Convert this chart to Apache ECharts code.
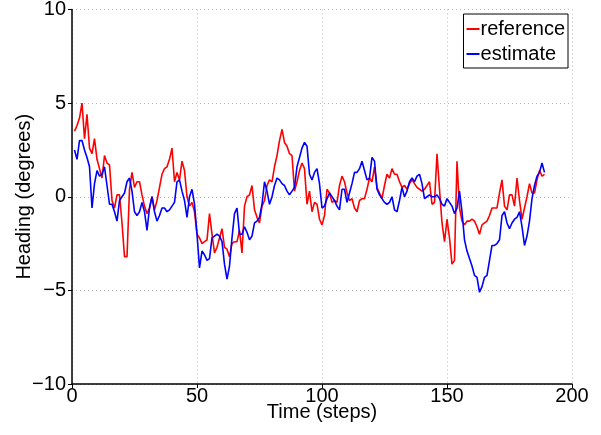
<!DOCTYPE html>
<html>
<head>
<meta charset="utf-8">
<script src="https://cdn.jsdelivr.net/npm/echarts@6/dist/echarts.min.js"></script>
<style>
  html, body { margin: 0; padding: 0; background: #fff; }
  #chart { width: 601px; height: 435px; }
</style>
</head>
<body>
<div id="chart"></div>
<script>
// heading over time — reference vs estimate, one value per step starting at step 1
const firstStep = 1;

const reference = [
  3.5, 3.8, 4.2, 5.0, 3.1, 4.4, 2.6, 2.3, 3.1, 2.0,
  1.5, 1.0, 2.2, 1.8, 1.7, -0.2, -0.6, 0.1, 0.1, -1.4,
  -3.2, -3.2, 0.4, 1.3, 0.5, 0.8, 0.8, 0.1, -0.5, -0.9,
  -0.6, 0.0, -0.7, -0.2, 0.5, 1.2, 1.5, 1.6, 2.0, 2.6,
  0.8, 1.3, 0.9, 1.9, 1.4, 0.0, -0.5, -0.3, -0.8, -2.0,
  -2.2, -2.5, -2.4, -2.3, -0.9, -2.0, -3.0, -2.7, -2.2, -1.7,
  -2.7, -2.8, -3.2, -2.5, -2.4, -2.4, -1.8, -3.0, -0.5, 0.0,
  0.1, 0.6, -0.7, -1.1, -1.4, -0.5, -0.2, 0.6, 0.9, 0.8,
  1.6, 2.2, 3.0, 3.6, 2.9, 2.7, 2.3, 2.2, 0.3, 0.8,
  1.4, 1.8, 1.5, -0.4, 0.3, -0.8, -0.3, -0.4, -1.2, -1.5,
  -1.0, 0.4, 0.2, -0.3, -0.2, -0.3, 0.6, 1.1, 0.8, 0.2,
  -0.2, -0.1, -0.6, -0.8, -0.2, -0.1, -0.1, 0.4, 1.0, 0.8,
  1.6, 0.5, 0.2, -0.1, 0.6, 1.2, 1.0, 1.5, 1.2, 1.2,
  0.8, 0.5, 0.6, 0.4, 0.7, 0.9, 0.7, 0.5, 0.4, 0.3,
  0.4, 0.6, 0.8, -0.4, -0.3, 2.3, 0.4, -1.4, -2.4, -1.2,
  -2.2, -3.6, -3.4, 1.9, -0.6, -1.3, -1.5, -1.3, -1.3, -1.2,
  -1.3, -1.6, -2.0, -1.5, -1.4, -1.3, -1.0, -0.6, -0.6, -0.6,
  0.2, 0.9, -0.5, -0.7, 0.1, 0.1, -0.5, 1.0, -0.2, -1.2,
  -0.6, 0.0, 0.7, 0.2, 0.2, 0.9, 1.4, 1.1, 1.2
];

const estimate = [
  2.5, 2.0, 3.0, 3.0, 2.5, 2.1, 1.6, -0.6, 0.7, 1.4,
  1.1, 1.2, 1.6, 0.6, -0.4, -0.4, -0.8, -1.3, -0.2, 0.0,
  0.2, 0.8, 1.0, 0.3, -0.8, -1.0, -0.8, -0.3, -0.8, -1.8,
  -0.6, 0.0, -0.8, -1.3, -1.0, -0.6, -0.6, -0.8, -0.7, -0.5,
  -0.3, 0.8, 0.9, 0.3, -0.2, -1.1, 0.0, 0.4, -0.4, -2.0,
  -3.8, -2.9, -3.1, -3.4, -3.3, -2.2, -2.1, -2.0, -2.1, -2.4,
  -3.6, -4.4, -3.7, -2.2, -0.9, -0.6, -2.0, -2.0, -1.6, -1.9,
  -2.3, -2.1, -1.4, -1.3, -1.1, -0.4, 0.8, 0.3, -0.4, 0.0,
  0.6, 1.0, 0.9, 0.7, 0.6, 0.3, 0.1, 0.3, 0.5, 1.6,
  2.1, 2.6, 2.9, 2.7, 1.2, 0.9, 1.3, 1.5, 0.7, -0.6,
  -0.5, -0.1, 0.2, 0.0, -0.2, -0.5, -0.7, 0.4, 0.4, -0.3,
  0.2, 0.7, 1.3, 1.3, 1.5, 1.9, 1.4, 0.9, 1.0, 2.1,
  1.9, 0.4, 0.1, -0.1, -0.3, -0.4, -0.3, 0.0, -0.7, -0.8,
  -0.2, 0.5, 0.0, 0.3, 0.8, 1.0, 0.8, 1.1, 1.2, 0.7,
  -0.1, 0.0, 0.1, 0.0, 0.0, 0.1, -0.1, -0.4, -0.5, -0.1,
  -0.3, -0.5, -0.9, -0.6, 0.3, -0.8, -2.3, -2.9, -3.3, -3.7,
  -4.2, -4.3, -5.1, -4.8, -4.3, -4.2, -3.4, -2.6, -2.6, -2.5,
  -2.3, -1.0, -0.8, -1.4, -1.7, -1.4, -1.2, -1.1, -0.8, -1.6,
  -2.6, -2.1, -1.3, -0.1, 0.6, 1.1, 1.3, 1.8, 1.3
];

const xTicks = { min: 0, max: 200, interval: 50 };
const yTicks = { min: -10, max: 10, interval: 5 };

const FONT = '"Liberation Sans", Arial, sans-serif';
const FS = 20;
const minus = (v) => String(v).replace('-', '\u2212');
const withSteps = (arr) => arr.map((v, i) => [firstStep + i, v]);

const gridDots = { show: true, lineStyle: { color: '#b8b8b8', type: [1, 3], width: 1 } };

const chart = echarts.init(document.getElementById('chart'), null, { renderer: 'canvas' });
chart.setOption({
  backgroundColor: '#fff',
  animation: false,
  textStyle: { fontFamily: FONT },
  grid: { left: 72, right: 29, top: 9.5, bottom: 51, containLabel: false, outerBoundsMode: 'none' },
  legend: {
    orient: 'vertical',
    right: 33,
    top: 14,
    backgroundColor: '#fff',
    borderColor: '#000',
    borderWidth: 1,
    borderRadius: 0,
    padding: [5, 3, 4, 3],
    itemGap: 5,
    itemWidth: 13,
    itemHeight: 2,
    icon: 'rect',
    textStyle: { fontSize: FS, color: '#000', fontFamily: FONT, padding: [0, 0, 0, -4] },
    data: ['reference', 'estimate']
  },
  xAxis: {
    type: 'value',
    min: xTicks.min, max: xTicks.max, interval: xTicks.interval,
    name: 'Time (steps)',
    nameLocation: 'middle',
    nameGap: 18,
    nameMoveOverlap: false,
    nameTextStyle: { fontSize: FS, color: '#000', fontFamily: FONT },
    axisLine: { show: true, onZero: false, lineStyle: { color: '#000', width: 1.5 } },
    axisTick: { show: true, inside: false, length: 4, lineStyle: { color: '#000' } },
    axisLabel: { fontSize: FS, color: '#000', margin: 2, fontFamily: FONT },
    splitLine: gridDots
  },
  yAxis: {
    type: 'value',
    min: yTicks.min, max: yTicks.max, interval: yTicks.interval,
    name: 'Heading (degrees)',
    nameLocation: 'middle',
    nameGap: 38,
    nameMoveOverlap: false,
    nameTextStyle: { fontSize: FS, color: '#000', fontFamily: FONT },
    axisLine: { show: true, onZero: false, lineStyle: { color: '#000', width: 1.5 } },
    axisTick: { show: true, inside: false, length: 4, lineStyle: { color: '#000' } },
    axisLabel: { fontSize: FS, color: '#000', margin: 6, fontFamily: FONT, formatter: minus },
    splitLine: gridDots
  },
  series: [
    {
      name: 'reference',
      type: 'line',
      data: withSteps(reference),
      showSymbol: false,
      color: '#ff0000',
      lineStyle: { color: '#ff0000', width: 1.6 },
      z: 2
    },
    {
      name: 'estimate',
      type: 'line',
      data: withSteps(estimate),
      showSymbol: false,
      color: '#0000ff',
      lineStyle: { color: '#0000ff', width: 1.6 },
      z: 3
    }
  ]
});
</script>
</body>
</html>
